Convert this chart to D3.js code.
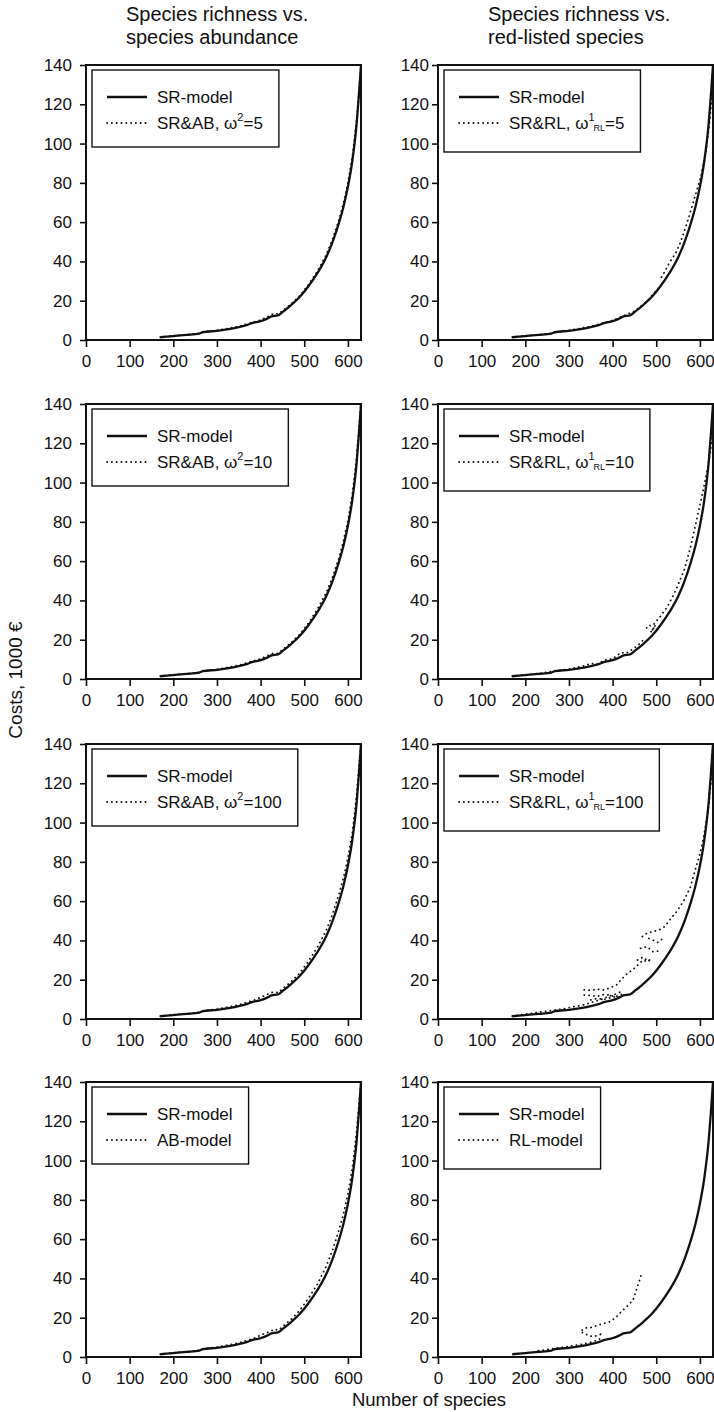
<!DOCTYPE html>
<html lang="en">
<head>
<meta charset="UTF-8">
<title>Costs vs number of species</title>
<style>
  body, html { margin: 0; padding: 0; background: #fff; }
  svg text { font-family: "Liberation Sans", Arial, Helvetica, sans-serif; fill: #111; }
</style>
</head>
<body>
<svg id="svg" width="714" height="1412"></svg>
<script src="https://d3js.org/d3.v7.min.js"></script>
<script>
// tick values
const xTicks = [0, 100, 200, 300, 400, 500, 600];
const yTicks = [0, 20, 40, 60, 80, 100, 120, 140];

// SR-model curve (number of species, costs in 1000 €), same in every panel
const srModel = [[170,1.4],[200,2.0],[230,2.6],[260,3.3],[268,4.0],[300,4.7],[330,5.7],[350,6.6],[370,7.7],[380,8.6],[400,9.6],
  [415,10.9],[425,12.0],[440,12.5],[450,14.2],[470,17.8],[490,22],[510,27.5],[530,34],[550,42],[565,50],[580,60],[590,68],
  [600,78],[610,91],[620,110],[625,124],[630,140]];

// dotted series, each one a list of segments
const srAb5 = [[[170,1.5],[200,2.1],[260,3.4],[270,4.2],[300,4.9],[350,6.9],[385,9.2],[400,10.2],[420,12.2],[430,13.5],[440,13.2],
  [450,14.8],[470,18.3],[490,22.6],[510,28.3],[530,35],[550,43.2],[565,51.5],[580,61.5],[590,70],[600,80],[610,93],[620,112],[625,126],[630,140]]];
const srAb10 = [[[170,1.5],[200,2.1],[260,3.4],[270,4.2],[300,4.9],[350,7.0],[385,9.3],[400,10.3],[420,12.3],[430,13.2],[440,13.0],
  [450,14.9],[470,18.5],[490,22.8],[510,28.6],[530,35.5],[550,43.8],[565,52],[580,62],[590,70.5],[600,80.5],[610,94],[620,113],[625,127],[630,140]]];
const srAb100 = [[[170,1.5],[200,2.1],[260,3.4],[270,4.3],[300,5.0],[350,7.2],[385,9.6],[400,11],[420,13],[430,13.8],[440,13.4],
  [450,15.3],[470,19],[490,23.5],[510,29.5],[530,36.5],[550,45],[565,53.5],[580,64],[590,72],[600,82],[610,95],[620,114],[625,128],[630,140]]];
const abModel = [[[170,1.5],[200,2.1],[260,3.4],[270,4.3],[300,5.0],[350,7.2],[385,9.5],[400,11.2],[420,12.8],[432,14.2],[440,13.6],
  [450,15.4],[470,19.2],[490,23.8],[510,30],[530,37],[550,46],[565,54.5],[580,65],[590,73],[600,83],[610,96],[620,115],[625,128],[630,140]]];

const srRl5 = [
  [[170,1.5],[200,2.1],[260,3.4],[300,4.9],[350,6.9],[400,10],[430,12.8],[450,14.6],[480,20],[505,26.5]],
  [[512,32],[520,35],[529,39],[544,44],[556,50],[571,60],[586,71],[602,83],[613,95],[621,108],[626,120],[630,140]]
];
const srRl10 = [
  [[170,1.5],[220,2.5],[265,4],[300,5],[340,7],[350,8],[365,7.5],[380,9.5],[400,10.3],[420,13.5],[430,13],[445,15],[460,17.5],[475,21]],
  [[478,26],[485,27.5],[492,25],[498,27.5],[490,24],[482,24.5]],
  [[495,28],[510,32],[526,37],[540,43],[548,47],[564,55.5],[579,67.5],[594,82.5],[606,94.6],[617,106.5],[625,117],[630,135]]
];
const srRl100 = [
  [[170,1.5],[230,3.4],[260,4.3],[290,5.3],[310,6.2],[330,7],[345,8],[360,9],[375,10],[390,11.5],[405,12.5],[420,14]],
  [[335,14.8],[350,14.6],[365,15.2],[381,14.8],[395,16],[410,17.5],[419,19.9],[434,23.2],[450,25.8],[460,28],[470,30],[480,29],[490,31]],
  [[335,12.2],[350,12],[365,11.5],[380,12.5],[395,12.2],[405,11.2],[420,12.5]],
  [[350,9.7],[365,10.5],[380,10],[395,10.8],[410,11.5],[420,11]],
  [[457,30],[470,31.5],[480,29.5],[488,30.5]],
  [[464,36],[480,36.8],[491,34.3],[506,34.6]],
  [[483,41],[494,40],[503,39],[513,40.6]],
  [[468,42],[480,43.9],[491,44.4],[506,45.3],[519,47],[533,51],[548,55],[564,60.6],[578,67],[588,75],[600,84],[608,92],[615,101],[621,110],[626,122],[630,140]]
];
const rlModel = [
  [[230,3.2],[250,3.8],[270,4.5],[290,5.1],[310,5.8],[330,6.5],[350,7.5],[370,9],[372,11.5],[358,10.5],[345,10.7],[339,11.7],[326,12.8],
   [336,14.7],[350,15],[364,16],[378,17],[394,18],[407,20],[420,23.1],[434,26],[447,29],[452,32.5],[457,36],[462,39.2],[466,42.2]]
];

// legend labels (parts: text, superscript, subscript)
const abLabel = w => [{ t: 'SR&AB, ω' }, { t: '2', sup: true }, { t: '=' + w, back: true }];
const rlLabel = w => [{ t: 'SR&RL, ω' }, { t: '1', sup: true }, { t: 'RL', sub: true }, { t: '=' + w, back: true }];

const titles = [['Species richness vs.', 'species abundance'], ['Species richness vs.', 'red-listed species']];

const panels = [
  { col: 0, row: 0, dotted: srAb5, label: abLabel(5) },
  { col: 1, row: 0, dotted: srRl5, label: rlLabel(5) },
  { col: 0, row: 1, dotted: srAb10, label: abLabel(10) },
  { col: 1, row: 1, dotted: srRl10, label: rlLabel(10) },
  { col: 0, row: 2, dotted: srAb100, label: abLabel(100) },
  { col: 1, row: 2, dotted: srRl100, label: rlLabel(100) },
  { col: 0, row: 3, dotted: abModel, label: [{ t: 'AB-model' }] },
  { col: 1, row: 3, dotted: rlModel, label: [{ t: 'RL-model' }] }
];

const svg = d3.select('#svg');
const colLeft = [86, 438];
const rowTop = [65, 404, 744, 1082];
const pw = 275, ph = 275;
const yPad = [8, 3];
const legendH = [77, 82];

// column titles, left aligned
titles.forEach((lines, i) => {
  const t = svg.append('text')
    .attr('x', [126, 488][i])
    .attr('y', 21)
    .attr('font-size', 20);
  lines.forEach((l, j) => t.append('tspan').attr('x', [126, 488][i]).attr('dy', j ? 22.5 : 0).text(l));
});

panels.forEach(p => {
  const x0 = colLeft[p.col], y0 = rowTop[p.row];
  const x = d3.scaleLinear().domain([0, 630]).range([x0, x0 + pw]);
  const y = d3.scaleLinear().domain([0, 140]).range([y0 + ph, y0]);
  const g = svg.append('g');

  const xAxis = g.append('g')
    .attr('transform', `translate(0,${y0 + ph})`)
    .call(d3.axisBottom(x).tickValues(xTicks).tickSize(7).tickSizeOuter(0).tickPadding(8));
  const yAxis = g.append('g')
    .attr('transform', `translate(${x0},0)`)
    .call(d3.axisLeft(y).tickValues(yTicks).tickSize(6).tickSizeOuter(0).tickPadding(yPad[p.col]));

  [xAxis, yAxis].forEach(a => {
    a.attr('font-size', 17).attr('font-family', null);
    a.select('.domain').remove();
    a.selectAll('line').attr('stroke', '#111').attr('stroke-width', 1.6);
    a.selectAll('text').attr('fill', '#111');
  });

  // frame
  g.append('rect')
    .attr('x', x0).attr('y', y0)
    .attr('width', pw).attr('height', ph)
    .attr('fill', 'none').attr('stroke', '#111').attr('stroke-width', 2);

  const line = d3.line().x(d => x(d[0])).y(d => y(d[1]));

  g.append('path')
    .datum(srModel)
    .attr('d', line.curve(d3.curveMonotoneX))
    .attr('fill', 'none').attr('stroke', '#111').attr('stroke-width', 2.3);

  line.curve(d3.curveLinear);
  g.selectAll('.dot-line')
    .data(p.dotted)
    .join('path')
    .attr('class', 'dot-line')
    .attr('d', line)
    .attr('fill', 'none').attr('stroke', '#111')
    .attr('stroke-width', 1.8)
    .attr('stroke-linecap', 'round')
    .attr('stroke-dasharray', '0.2,4.6');

  // legend
  const bx = x0 + 6, by = y0 + 5;
  const box = g.append('rect')
    .attr('x', bx).attr('y', by)
    .attr('height', legendH[p.col])
    .attr('fill', '#fff').attr('stroke', '#111').attr('stroke-width', 1.4);

  g.append('line')
    .attr('x1', bx + 15).attr('x2', bx + 55)
    .attr('y1', by + 27).attr('y2', by + 27)
    .attr('stroke', '#111').attr('stroke-width', 2.3);
  g.append('line')
    .attr('x1', bx + 15).attr('x2', bx + 55)
    .attr('y1', by + 53).attr('y2', by + 53)
    .attr('stroke', '#111').attr('stroke-width', 1.8)
    .attr('stroke-linecap', 'round').attr('stroke-dasharray', '0.2,4.6');

  const t1 = g.append('text')
    .attr('x', bx + 65).attr('y', by + 33)
    .attr('font-size', 17)
    .text('SR-model');
  const t2 = g.append('text')
    .attr('x', bx + 65).attr('y', by + 59)
    .attr('font-size', 17);
  p.label.forEach(part => {
    const s = t2.append('tspan').text(part.t);
    if (part.sup) s.attr('font-size', 11).attr('dy', -8);
    else if (part.sub) s.attr('font-size', 9).attr('dy', 10).attr('dx', -1);
    else if (part.back) s.attr('dy', p.label.some(q => q.sub) ? -2 : 8);
  });

  const end = Math.max(
    t1.node().getBBox().x + t1.node().getBBox().width,
    t2.node().getBBox().x + t2.node().getBBox().width
  );
  box.attr('width', end - bx + 16);
});

// axis titles
svg.append('text')
  .attr('transform', 'translate(22,680) rotate(-90)')
  .attr('text-anchor', 'middle')
  .attr('font-size', 19)
  .text('Costs, 1000 €');

svg.append('text')
  .attr('x', 429).attr('y', 1406)
  .attr('text-anchor', 'middle')
  .attr('font-size', 18.5)
  .text('Number of species');
</script>
</body>
</html>
